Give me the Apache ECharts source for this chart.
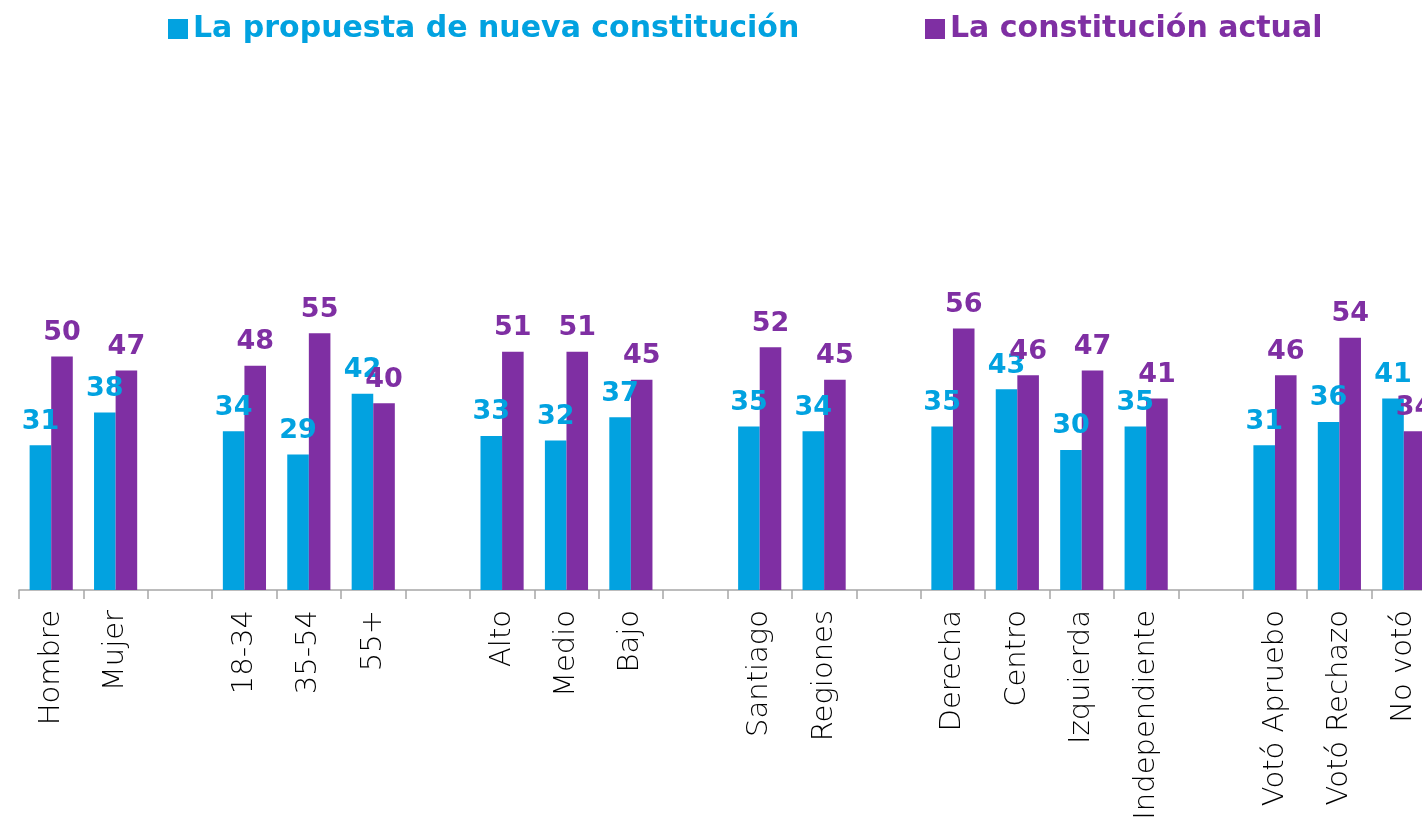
<!DOCTYPE html>
<html>
<head>
<meta charset="utf-8">
<script src="https://cdn.jsdelivr.net/npm/echarts@6/dist/echarts.min.js"></script>
<style>
  html, body { margin: 0; padding: 0; background: #fff; }
  #chart { width: 1422px; height: 825px; }
</style>
</head>
<body>
<div id="chart"></div>
<script>
// categorías (los '' son separadores entre grupos)
var categories = ['Hombre', 'Mujer', '', '18-34', '35-54', '55+', '', 'Alto', 'Medio', 'Bajo', '',
  'Santiago', 'Regiones', '', 'Derecha', 'Centro', 'Izquierda', 'Independiente', '',
  'Votó Apruebo', 'Votó Rechazo', 'No votó'];
var nuevaData = [31, 38, null, 34, 29, 42, null, 33, 32, 37, null, 35, 34, null, 35, 43, 30, 35, null, 31, 36, 41];
var actualData = [50, 47, null, 48, 55, 40, null, 51, 51, 45, null, 52, 45, null, 56, 46, 47, 41, null, 46, 54, 34];
var seriesNames = ['La propuesta de nueva constitución', 'La constitución actual'];

var BLUE = '#02A2E0';
var PURPLE = '#7F2FA3';
var FONT = 'DejaVu Sans';

var chart = echarts.init(document.getElementById('chart'));

function labelStyle(color) {
  return {
    show: true,
    position: 'top',
    distance: 10,
    color: color,
    fontFamily: FONT,
    fontWeight: 'bold',
    fontSize: 27
  };
}

chart.setOption({
  animation: false,
  legend: [{
    left: 163,
    top: 9,
    icon: 'rect',
    itemWidth: 20,
    itemHeight: 20,
    itemGap: 8,
    textStyle: { fontFamily: FONT, fontWeight: 'bold', fontSize: 30, color: BLUE },
    data: [{ name: seriesNames[0] }]
  }, {
    left: 920,
    top: 9,
    icon: 'rect',
    itemWidth: 20,
    itemHeight: 20,
    textStyle: { fontFamily: FONT, fontWeight: 'bold', fontSize: 30, color: PURPLE },
    data: [{ name: seriesNames[1] }]
  }],
  grid: {
    left: 19,
    right: -14,
    top: 123,
    height: 467,
    containLabel: false,
    outerBoundsMode: 'none'
  },
  xAxis: {
    type: 'category',
    data: categories,
    axisLine: { lineStyle: { color: '#a6a6a6', width: 1.5 } },
    axisTick: { show: true, length: 9, lineStyle: { color: '#a6a6a6', width: 1.5 } },
    axisLabel: {
      rotate: 90,
      interval: 0,
      margin: 20,
      color: '#000',
      fontFamily: FONT,
      fontWeight: 300,
      fontSize: 29
    }
  },
  yAxis: {
    type: 'value',
    min: 0,
    max: 100,
    show: false,
    splitLine: { show: false }
  },
  series: [{
    name: seriesNames[0],
    type: 'bar',
    data: nuevaData,
    barGap: '0%',
    barCategoryGap: '33%',
    itemStyle: { color: BLUE },
    label: labelStyle(BLUE)
  }, {
    name: seriesNames[1],
    type: 'bar',
    data: actualData,
    itemStyle: { color: PURPLE },
    label: labelStyle(PURPLE)
  }]
});
</script>
</body>
</html>
